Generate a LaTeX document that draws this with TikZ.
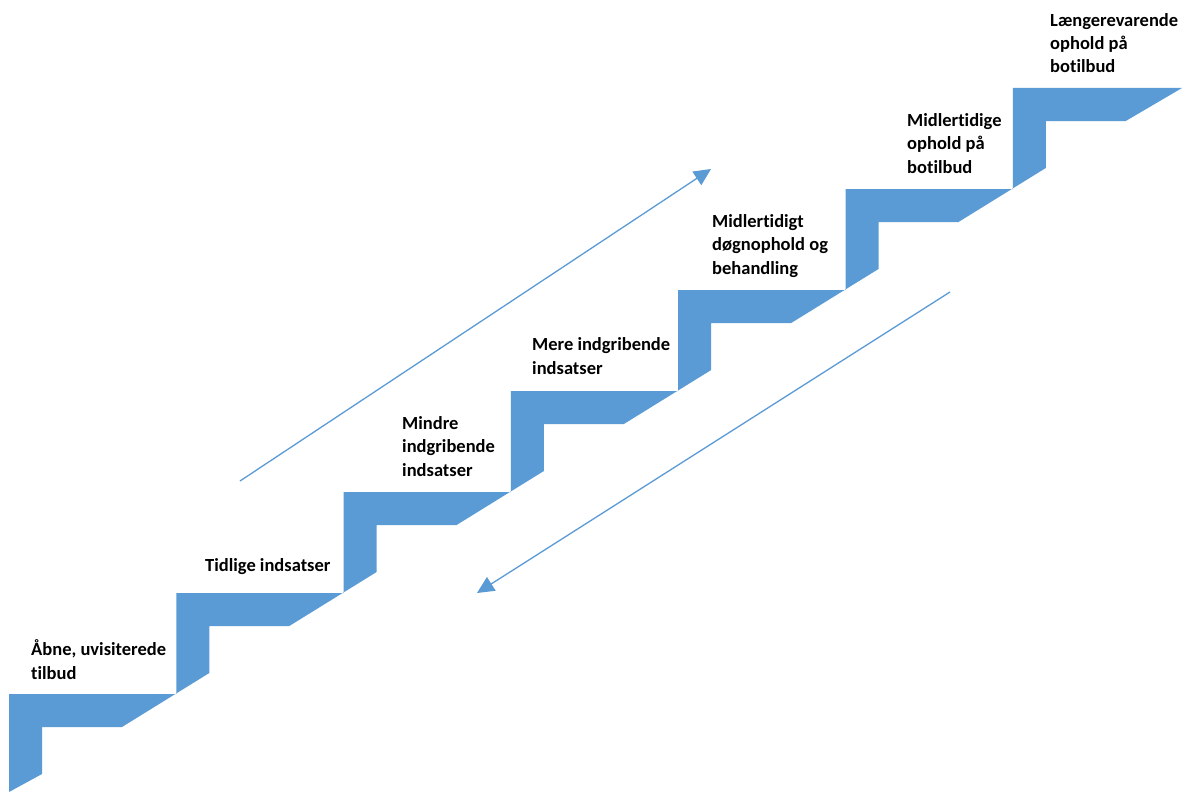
\documentclass[tikz,border=0pt]{standalone}
\usepackage{fontspec}
\setmainfont{Carlito}[Ligatures=NoCommon]
\usetikzlibrary{arrows.meta}
\definecolor{stairblue}{HTML}{5B9BD5}
\begin{document}
\begin{tikzpicture}[x=1pt,y=-1pt,
  lbl/.style={anchor=base west,inner sep=0pt,align=left,text=black,
    font=\fontsize{18.5}{23.5}\selectfont\bfseries},
  arr/.style={draw=stairblue,line width=1.3pt,-{Triangle[length=17pt,width=16pt]}}]
\useasboundingbox[fill=white] (0,0) rectangle (1187,792);
% staircase
\fill[stairblue] (9,792) -- (9,694) -- (176.3,694) -- (176.3,593) -- (343.6,593) -- (343.6,492)
  -- (510.9,492) -- (510.9,391) -- (678.2,391) -- (678.2,290) -- (845.5,290) -- (845.5,189)
  -- (1012.8,189) -- (1012.8,88) -- (1182,88)
  -- (1125.8,121) -- (1045.8,121) -- (1045.8,168)
  -- (958.5,222) -- (878.5,222) -- (878.5,269)
  -- (791.2,323) -- (711.2,323) -- (711.2,370)
  -- (623.9,424) -- (543.9,424) -- (543.9,471)
  -- (456.6,525) -- (376.6,525) -- (376.6,572)
  -- (289.3,626) -- (209.3,626) -- (209.3,673)
  -- (122,727) -- (42,727) -- (42,774) -- cycle;
% labels (anchored at the baseline of the last line)
\node[lbl] (s1) at (31,679) {Åbne, uvisiterede\\tilbud};
\node[lbl] (s2) at (205,571) {Tidlige indsatser};
\node[lbl] (s3) at (402,476) {Mindre\\indgribende\\indsatser};
\node[lbl] (s4) at (532,374) {Mere indgribende\\indsatser};
\node[lbl] (s5) at (712,274) {Midlertidigt\\døgnophold og\\behandling};
\node[lbl] (s6) at (907,173) {Midlertidige\\ophold på\\botilbud};
\node[lbl] (s7) at (1050,73) {Længerevarende\\ophold på\\botilbud};
% arrows
\coordinate (u1) at (240,481);
\coordinate (u2) at (711,169);
\coordinate (d1) at (950,292);
\coordinate (d2) at (477,593);
\draw[arr] (u1) -- (u2);
\draw[arr] (d1) -- (d2);
\end{tikzpicture}
\end{document}
